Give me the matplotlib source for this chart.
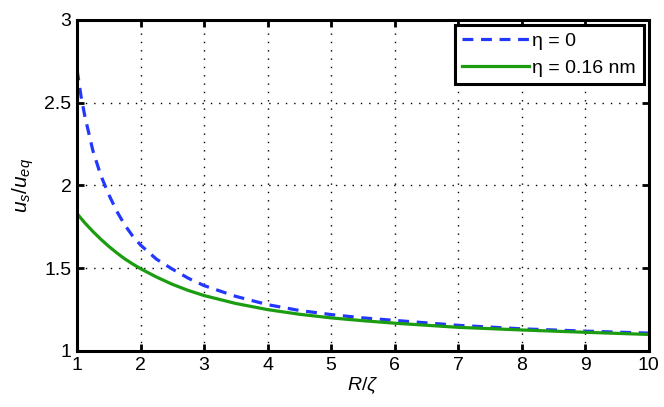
import matplotlib
matplotlib.use("Agg")
import matplotlib.pyplot as plt

# Data
x_b = [1.0, 1.0625, 1.125, 1.25, 1.375, 1.5, 1.625, 1.75, 1.875, 2.0, 2.25, 2.5,
       2.75, 3.0, 3.5, 4.0, 4.5, 5.0, 5.5, 6.0, 7.0, 8.0, 9.0, 10.0]
eta0 = [2.70, 2.54, 2.415, 2.21, 2.06, 1.945, 1.845, 1.762, 1.695, 1.64, 1.555,
        1.495, 1.44, 1.395, 1.33, 1.28, 1.245, 1.22, 1.20, 1.185, 1.155, 1.134,
        1.12, 1.108]
x_g = [1.0, 1.125, 1.25, 1.375, 1.5, 1.625, 1.75, 1.875, 2.0, 2.25, 2.5, 2.75,
       3.0, 3.5, 4.0, 4.5, 5.0, 5.5, 6.0, 7.0, 8.0, 9.0, 10.0]
eta016 = [1.83, 1.773, 1.722, 1.675, 1.632, 1.593, 1.557, 1.526, 1.497, 1.447,
          1.403, 1.366, 1.335, 1.287, 1.25, 1.222, 1.20, 1.183, 1.168, 1.143,
          1.127, 1.113, 1.10]
labels = ["η = 0", "η = 0.16 nm"]
xticks = [1, 2, 3, 4, 5, 6, 7, 8, 9, 10]
yticks = [1, 1.5, 2, 2.5, 3]
yticklabels = ['1', '1.5', '2', '2.5', '3']

plt.rcParams['font.family'] = ['Liberation Sans', 'DejaVu Sans']
plt.rcParams['mathtext.fontset'] = 'custom'
plt.rcParams['mathtext.it'] = 'Liberation Sans:italic'
plt.rcParams['mathtext.rm'] = 'Liberation Sans'

fig = plt.figure(figsize=(6.64, 4.07), dpi=100)
ax = fig.add_axes([0.116, 0.1376, 0.861, 0.8134])

ax.plot(x_b, eta0, linestyle=(0, (3.4, 2.4)), color='#2338ff', lw=2.3,
        label=labels[0])
ax.plot(x_g, eta016, '-', color='#1c9c10', lw=2.3, label=labels[1])

ax.set_xlim(1, 10)
ax.set_ylim(1, 3)
ax.set_xticks(xticks)
ax.set_xticklabels([str(t) for t in xticks])
ax.set_yticks(yticks)
ax.set_yticklabels(yticklabels)
ax.tick_params(direction='in', length=5, width=2, top=True, right=True,
               labelsize=14, pad=4)
for s in ax.spines.values():
    s.set_linewidth(2.2)
ax.grid(True, linestyle=(0, (1, 5)), color='black', lw=1)

ax.set_xlabel(r'$R/\zeta$', fontsize=14, labelpad=1)
ax.set_ylabel(r'$u_s/u_{eq}$', fontsize=15, labelpad=6)

leg = ax.legend(loc='upper right', fontsize=14, handlelength=3.4, handletextpad=0.2,
                borderpad=0.4, labelspacing=0.45, fancybox=False, framealpha=1,
                edgecolor='black', borderaxespad=0.25)
leg.get_frame().set_linewidth(2.2)

fig.savefig('out.png', dpi=100)
